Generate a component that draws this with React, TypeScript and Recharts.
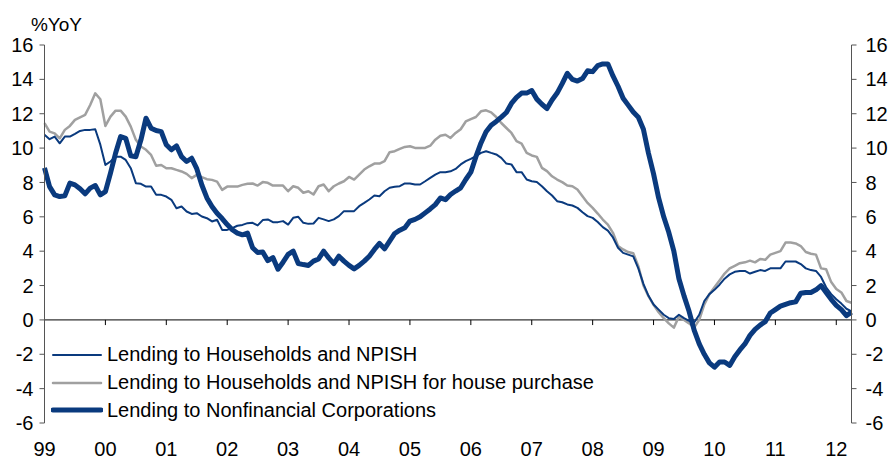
import { LineChart, Line, XAxis, YAxis, ReferenceLine, Legend } from 'recharts';

// monthly, Jan 1999 .. Apr 2012, % year on year
const households = [
  10.77, 10.52, 10.67, 10.28, 10.67, 10.67, 10.83, 11.0, 11.06, 11.06, 11.1, 10.2, // 99
  9.02, 9.22, 9.5, 9.5, 9.31, 8.83, 7.96, 7.92, 7.76, 7.76, 7.28, 7.28, // 00
  7.18, 6.99, 6.5, 6.6, 6.31, 6.17, 6.21, 6.02, 5.92, 5.73, 5.83, 5.24, // 01
  5.24, 5.34, 5.48, 5.53, 5.63, 5.65, 5.5, 5.81, 5.85, 5.69, 5.69, 5.75, // 02
  5.55, 5.94, 6.0, 5.65, 5.59, 5.61, 5.94, 5.85, 5.75, 5.85, 6.04, 6.33, // 03
  6.33, 6.33, 6.62, 6.81, 7.01, 7.24, 7.2, 7.49, 7.69, 7.75, 7.78, 7.94, // 04
  7.94, 7.88, 7.88, 8.07, 8.27, 8.46, 8.6, 8.6, 8.65, 8.79, 9.05, 9.24, // 05
  9.37, 9.53, 9.72, 9.82, 9.72, 9.63, 9.43, 9.1, 9.05, 8.6, 8.6, 8.17, // 06
  8.07, 8.03, 7.78, 7.49, 7.24, 6.91, 6.85, 6.72, 6.66, 6.52, 6.27, 6.04, // 07
  5.94, 5.7, 5.4, 5.2, 4.8, 4.2, 3.9, 3.8, 3.7, 3.0, 2.1, 1.4, // 08
  0.9, 0.6, 0.3, 0.1, 0.05, 0.3, 0.1, -0.05, -0.15, 0.3, 1.1, 1.5, // 09
  1.75, 2.05, 2.4, 2.65, 2.8, 2.85, 2.85, 2.7, 2.8, 2.9, 2.85, 3.0, // 10
  3.0, 3.0, 3.4, 3.4, 3.4, 3.25, 3.0, 2.9, 2.85, 2.5, 1.9, 1.5, // 11
  1.2, 0.95, 0.65, 0.5, // 12
];

const housePurchase = [
  11.45, 10.96, 10.86, 10.57, 11.06, 11.29, 11.64, 11.79, 11.93, 12.51, 13.19, 12.84,
  11.29, 11.83, 12.18, 12.18, 11.83, 11.25, 10.48, 10.09, 9.9, 9.6, 8.97, 9.02,
  8.83, 8.83, 8.73, 8.64, 8.5, 8.25, 8.44, 8.31, 8.19, 8.15, 8.05, 7.57,
  7.76, 7.76, 7.76, 7.86, 7.92, 7.94, 7.82, 8.02, 7.98, 7.82, 7.82, 7.82,
  7.49, 7.78, 7.69, 7.4, 7.49, 7.3, 7.78, 7.88, 7.49, 7.78, 7.94, 8.07,
  8.32, 8.17, 8.46, 8.75, 8.94, 9.1, 9.1, 9.24, 9.76, 9.82, 9.95, 10.07,
  10.11, 10.01, 10.01, 10.01, 10.14, 10.49, 10.72, 10.78, 10.59, 10.88, 11.1, 11.55,
  11.69, 11.81, 12.14, 12.2, 12.08, 11.81, 11.46, 11.17, 10.88, 10.4, 10.26, 9.72,
  9.57, 9.49, 8.85, 8.66, 8.36, 8.17, 8.02, 7.82, 7.78, 7.59, 7.2, 6.81,
  6.52, 6.19, 5.84, 5.55, 5.07, 4.3, 4.1, 3.95, 3.88, 3.13, 2.0, 1.38,
  0.88, 0.45, 0.1, -0.2, -0.45, 0.2, 0.0, -0.2, -0.45, 0.0, 0.9, 1.5,
  1.9, 2.3, 2.7, 3.0, 3.15, 3.3, 3.35, 3.45, 3.35, 3.55, 3.5, 3.8,
  3.9, 4.0, 4.5, 4.5, 4.45, 4.3, 3.95, 3.85, 3.8, 3.0, 2.95, 2.2,
  1.8, 1.6, 1.1, 1.0,
];

const corporations = [
  8.85, 7.76, 7.28, 7.18, 7.22, 7.96, 7.86, 7.63, 7.34, 7.67, 7.82, 7.28,
  7.47, 8.54, 9.7, 10.67, 10.57, 9.55, 9.5, 10.48, 11.74, 11.16, 11.02, 10.96,
  10.19, 9.9, 10.13, 9.5, 9.22, 9.41, 8.8, 7.85, 7.1, 6.6, 6.21, 5.9,
  5.55, 5.25, 5.05, 4.95, 5.05, 4.2, 3.92, 3.95, 3.45, 3.63, 2.95, 3.36,
  3.81, 4.0, 3.28, 3.22, 3.17, 3.42, 3.55, 4.0, 3.61, 3.28, 3.71, 3.42,
  3.17, 2.97, 3.17, 3.42, 3.71, 4.1, 4.45, 4.14, 4.58, 5.03, 5.22, 5.36,
  5.75, 5.85, 6.0, 6.23, 6.46, 6.71, 7.1, 7.0, 7.3, 7.5, 7.69, 8.17,
  8.6, 9.5, 10.3, 10.95, 11.33, 11.55, 11.8, 12.07, 12.6, 12.95, 13.2, 13.2,
  13.35, 12.85, 12.55, 12.3, 12.8, 13.2, 13.75, 14.35, 14.0, 13.9, 14.05, 14.5,
  14.45, 14.8, 14.9, 14.9, 14.2, 13.6, 12.9, 12.5, 12.1, 11.8, 11.1, 9.7,
  8.5, 7.1, 6.0, 5.1, 4.0, 2.4, 1.4, 0.5, -0.6, -1.4, -2.0, -2.5,
  -2.75, -2.45, -2.45, -2.65, -2.15, -1.75, -1.4, -0.9, -0.55, -0.3, -0.1, 0.4,
  0.6, 0.8, 0.9, 1.0, 1.05, 1.55, 1.6, 1.6, 1.75, 2.0, 1.6, 1.2,
  0.85, 0.6, 0.25, 0.45,
];

const yearLabels = ['99', '00', '01', '02', '03', '04', '05', '06', '07', '08', '09', '10', '11', '12'];
const yTicks = [-6, -4, -2, 0, 2, 4, 6, 8, 10, 12, 14, 16];

const HH = 'Lending to Households and NPISH';
const HP = 'Lending to Households and NPISH for house purchase';
const NFC = 'Lending to Nonfinancial Corporations';

const NAVY = '#0a3a7e';
const GREY = '#a0a0a0';
const AXIS = '#555';
const FONT = '"Liberation Sans", Arial, sans-serif';

const data = households.map((v, i) => ({
  m: i,
  hh: v,
  hp: housePurchase[i],
  nfc: corporations[i],
}));

const yearTicks = yearLabels.map((_, i) => i * 12);
const legendOrder = [HH, HP, NFC];
const legendWidth: Record<string, number> = { [HH]: 2, [HP]: 2.5, [NFC]: 5 };

function renderLegend(props: any) {
  const items = [...(props.payload || [])].sort(
    (a: any, b: any) => legendOrder.indexOf(a.value) - legendOrder.indexOf(b.value)
  );
  return (
    <div style={{ fontFamily: FONT, fontSize: 20, color: '#000' }}>
      {items.map((entry: any) => (
        <div key={entry.value} style={{ display: 'flex', alignItems: 'center', height: 27.7 }}>
          <svg width={52} height={10} style={{ marginRight: 4, flex: 'none' }}>
            <line x1={2} y1={5} x2={50} y2={5} stroke={entry.color} strokeWidth={legendWidth[entry.value]} strokeLinecap="round" />
          </svg>
          <span style={{ whiteSpace: 'nowrap' }}>{entry.value}</span>
        </div>
      ))}
    </div>
  );
}

// unit caption above the left axis
function UnitLabel() {
  return (
    <text x={82} y={31} fill="#000" fontSize={19} fontFamily={FONT} textAnchor="end">
      %YoY
    </text>
  );
}

export default function App() {
  const tickStyle = { fill: '#000', fontSize: 20, fontFamily: FONT };
  return (
    <div style={{ position: 'absolute', left: 0, top: 0, width: 890, height: 461, background: '#fff' }}>
      <LineChart width={890} height={461} data={data} margin={{ top: 45, right: 0.5, bottom: 0, left: 0.5 }}>
        <XAxis
          dataKey="m"
          type="number"
          domain={[0, 159]}
          ticks={yearTicks}
          interval={0}
          tickFormatter={(m: number) => yearLabels[Math.round(m / 12)]}
          axisLine={false}
          tickLine={false}
          tickSize={0}
          tickMargin={19}
          height={38}
          tick={tickStyle}
        />
        <YAxis
          yAxisId="left"
          domain={[-6, 16]}
          allowDataOverflow
          ticks={yTicks}
          interval={0}
          width={44}
          tickSize={5}
          tickMargin={6}
          axisLine={{ stroke: AXIS }}
          tickLine={{ stroke: AXIS }}
          tick={tickStyle}
          label={<UnitLabel />}
        />
        <YAxis
          yAxisId="right"
          orientation="right"
          domain={[-6, 16]}
          allowDataOverflow
          ticks={yTicks}
          interval={0}
          width={38}
          tickSize={5}
          tickMargin={9}
          axisLine={{ stroke: AXIS }}
          tickLine={{ stroke: AXIS }}
          tick={tickStyle}
        />
        <ReferenceLine yAxisId="left" y={0} stroke="#000" strokeWidth={1} />
        {yearTicks.slice(1).map((m) => (
          <ReferenceLine
            key={m}
            yAxisId="left"
            segment={[{ x: m, y: 0 }, { x: m, y: -0.3 }]}
            stroke="#000"
            strokeWidth={1}
          />
        ))}
        <Line yAxisId="left" type="linear" dataKey="hp" name={HP} stroke={GREY} strokeWidth={2.5} dot={false} isAnimationActive={false} strokeLinejoin="round" />
        <Line yAxisId="left" type="linear" dataKey="hh" name={HH} stroke={NAVY} strokeWidth={2} dot={false} isAnimationActive={false} strokeLinejoin="round" />
        <Line yAxisId="left" type="linear" dataKey="nfc" name={NFC} stroke={NAVY} strokeWidth={5} dot={false} isAnimationActive={false} strokeLinejoin="round" />
        <Legend
          layout="vertical"
          align="center"
          verticalAlign="middle"
          content={renderLegend}
          wrapperStyle={{ left: 51, top: 341, width: 'auto' }}
        />
      </LineChart>
    </div>
  );
}
